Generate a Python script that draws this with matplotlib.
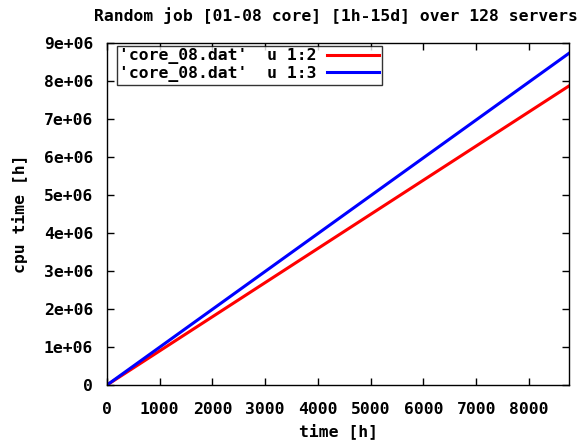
import matplotlib
matplotlib.use("Agg")
import matplotlib.pyplot as plt

time_h = [0, 2000, 4000, 6000, 8760]
cpu_col2 = [0, 1.797e6, 3.594e6, 5.391e6, 7.87e6]
cpu_col3 = [0, 1.993e6, 3.986e6, 5.979e6, 8.73e6]
labels = ["'core_08.dat'  u 1:2", "'core_08.dat'  u 1:3"]
xticks = [0, 1000, 2000, 3000, 4000, 5000, 6000, 7000, 8000]
yticks = [0, 1e6, 2e6, 3e6, 4e6, 5e6, 6e6, 7e6, 8e6, 9e6]
ytick_labels = ["0", "1e+06", "2e+06", "3e+06", "4e+06", "5e+06", "6e+06", "7e+06", "8e+06", "9e+06"]
title = "Random job [01-08 core] [1h-15d] over 128 servers"

plt.rcParams['font.family'] = ['DejaVu Sans Mono']
plt.rcParams['font.weight'] = 'bold'
fs = 11.8

W, H = 580, 443
fig = plt.figure(figsize=(5.8, 4.43), dpi=100)
ax = fig.add_axes([107/W, 1 - 385/H, (569-107)/W, (385-43)/H])

ax.plot(time_h, cpu_col2, color='#ff0000', lw=2.2, label=labels[0])
ax.plot(time_h, cpu_col3, color='#0000ff', lw=2.2, label=labels[1])

ax.set_xlim(0, 8760)
ax.set_ylim(0, 9e6)
ax.set_xticks(xticks)
ax.set_xticklabels([str(t) for t in xticks], fontsize=fs, fontweight='bold')
ax.set_yticks(yticks)
ax.set_yticklabels(ytick_labels, fontsize=fs, fontweight='bold')
ax.tick_params(direction='in', top=True, right=True, length=5, width=1)
ax.tick_params(axis='y', pad=10)
ax.tick_params(axis='x', pad=12)
for s in ax.spines.values():
    s.set_linewidth(1)

fig.text(338/W, 1 - 431/H, "time [h]", fontsize=fs, fontweight='bold', ha='center', va='center')
fig.text(20/W, 1 - 214/H, "cpu time [h]", fontsize=fs, fontweight='bold', ha='center', va='center', rotation=90)
fig.text(94/W, 1 - 16/H, title, fontsize=fs, fontweight='bold', ha='left', va='center')

leg = ax.legend(loc='upper left', bbox_to_anchor=(10/462, 1 - 3/342), markerfirst=False,
                fontsize=fs, frameon=True, fancybox=False, borderpad=0.15,
                handlelength=3.2, labelspacing=0.1, borderaxespad=0, handletextpad=0.6)
leg.get_frame().set_edgecolor('black')
leg.get_frame().set_linewidth(1)
for t in leg.get_texts():
    t.set_fontweight('bold')

fig.savefig("out.png", dpi=100)
